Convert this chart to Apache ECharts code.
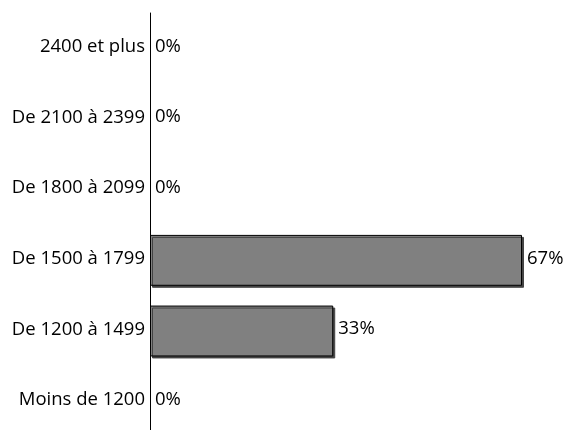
<!DOCTYPE html>
<html>
<head>
<meta charset="utf-8">
<script src="https://cdn.jsdelivr.net/npm/echarts@6/dist/echarts.min.js"></script>
<style>
  html, body { margin: 0; padding: 0; background: #fff; }
  #chart { width: 563px; height: 430px; }
</style>
</head>
<body>
<div id="chart"></div>
<script>
  // categories bottom to top (as drawn)
  var categories = ['Moins de 1200', 'De 1200 à 1499', 'De 1500 à 1799', 'De 1800 à 2099', 'De 2100 à 2399', '2400 et plus'];
  var shares = [0, 33, 67, 0, 0, 0];

  // zero bars: no border / shadow, just the label
  var barData = shares.map(function (v) {
    if (v > 0) return v;
    return { value: v, itemStyle: { borderWidth: 0, shadowColor: 'rgba(0,0,0,0)' } };
  });

  var chart = echarts.init(document.getElementById('chart'));
  var option = {
    animation: false,
    grid: { left: 150, top: 13, width: 372, height: 424, outerBoundsMode: 'none' },
    xAxis: {
      type: 'value',
      min: 0,
      max: 67,
      show: false
    },
    yAxis: {
      type: 'category',
      data: categories,
      axisLine: { show: true, lineStyle: { color: '#000', width: 1 } },
      axisTick: { show: false },
      axisLabel: {
        color: '#000',
        fontFamily: 'Open Sans',
        fontSize: 18.5,
        margin: 5,
        verticalAlign: 'bottom',
        lineHeight: 3
      },
      splitLine: { show: false }
    },
    series: [{
      type: 'bar',
      data: barData,
      barCategoryGap: '28%',
      itemStyle: {
        color: '#808080',
        borderColor: '#000',
        borderWidth: 1,
        shadowColor: '#444',
        shadowOffsetX: 2,
        shadowOffsetY: 2,
        shadowBlur: 0
      },
      label: {
        show: true,
        position: 'right',
        distance: 5,
        offset: [0, -2],
        formatter: '{c}%',
        color: '#000',
        fontFamily: 'Open Sans',
        fontSize: 18.5
      }
    }]
  };
  chart.setOption(option);
</script>
</body>
</html>
